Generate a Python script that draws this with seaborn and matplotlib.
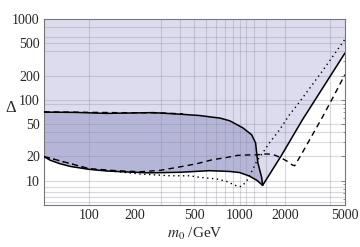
import numpy as np
import pandas as pd
import matplotlib
matplotlib.use('Agg')
import matplotlib.pyplot as plt
import seaborn as sns
from matplotlib.ticker import FixedLocator, FixedFormatter, NullFormatter

# lower edge of the allowed band (solid)
m_lo = [50, 55, 64, 75, 100, 130, 180, 250, 400, 630, 860, 1000, 1160, 1300, 1420]
d_lo = [19.9, 17.9, 16.2, 15.0, 13.8, 13.2, 12.8, 12.5, 12.7, 13.3, 13.0, 12.6, 11.4, 10.1, 8.75]

# upper edge of the dark band (solid)
m_up = [50, 80, 130, 265, 400, 540, 660, 740, 860, 1050, 1200, 1275, 1300, 1320, 1400, 1420]
d_up = [70.5, 70, 68, 69.5, 66.5, 64, 61, 59.5, 55, 45, 37, 29.4, 21, 16.7, 10.9, 8.75]

# rising solid branch
m_rise = [1420, 1890, 2610, 5000]
d_rise = [8.75, 20.4, 56.6, 378]

# dashed curve
m_dash = [50, 100, 150, 218, 295, 400, 518, 662, 800, 955, 1110, 1300, 1500, 1655,
          1850, 2080, 2240, 2320, 2600, 3490, 4200, 5000]
d_dash = [19.9, 14.1, 13.3, 12.9, 13.4, 14.8, 16.2, 18.2, 19.2, 20.5, 20.8, 20.9, 21.4, 21.2,
          19.5, 17.3, 15.6, 15.3, 22, 58, 110, 205]
m_dash_up = [50, 150, 300, 420]
d_dash_up = [71, 69.5, 69, 67]

# dotted curve
m_dot = [50, 100, 150, 218, 344, 466, 543, 704, 818, 955, 1025, 1110, 1220, 1296,
         1420, 1580, 1840, 2150, 2420, 3500, 5000]
d_dot = [19.9, 14.0, 13.0, 12.1, 11.5, 11.5, 11.0, 10.5, 9.8, 8.6, 8.45, 9.8, 13.7, 17.3,
         22, 29.5, 42.6, 66, 87, 220, 560]

x_ticks = [100, 200, 500, 1000, 2000, 5000]
y_ticks = [10, 20, 50, 100, 200, 500, 1000]
x_grid = [100, 300, 400, 500, 600, 700, 800, 900, 1000, 1100, 1250, 1500, 2000, 4000]
y_grid = [5.5, 6.3, 7.3, 8.4, 10, 20, 30, 40, 50, 90, 100, 200, 400, 500, 600, 800]


def main():
    sns.set_style('white')
    plt.rcParams['font.family'] = ['Liberation Serif', 'DejaVu Serif']
    plt.rcParams['mathtext.fontset'] = 'stix'

    fig = plt.figure(figsize=(3.6, 2.47), dpi=100)
    ax = fig.add_axes([0.122, 0.17, 0.836, 0.753])
    ax.set_xscale('log')
    ax.set_yscale('log')

    light = '#dcdcee'
    dark = '#b5b5d8'

    env_m = m_lo + m_rise[1:]
    env_d = d_lo + d_rise[1:]
    ax.fill_between(env_m, env_d, 1000, color=light, lw=0, zorder=1)
    ax.fill(m_lo + m_up[::-1], d_lo + d_up[::-1], color=dark, lw=0, zorder=1)

    for g in x_grid:
        ax.axvline(g, color='#8a8a9a', alpha=0.33, lw=0.8, zorder=2)
    for g in y_grid:
        ax.axhline(g, color='#8a8a9a', alpha=0.33, lw=0.8, zorder=2)

    curves = [
        (m_lo, d_lo, '-', 1.1),
        (m_up, d_up, '-', 1.1),
        (m_rise, d_rise, '-', 1.1),
        (m_dash, d_dash, (0, (4, 3)), 1.0),
        (m_dash_up, d_dash_up, (0, (4, 3)), 1.0),
        (m_dot, d_dot, (0, (1, 2.5)), 1.0),
    ]
    for m, d, ls, lw in curves:
        df = pd.DataFrame({'m0': m, 'delta': d})
        sns.lineplot(data=df, x='m0', y='delta', sort=False, color='black',
                     linestyle=ls, lw=lw, ax=ax, zorder=3)

    ax.set_xlim(50, 5000)
    ax.set_ylim(5, 1000)

    ax.xaxis.set_major_locator(FixedLocator(x_ticks))
    ax.xaxis.set_major_formatter(FixedFormatter([str(v) for v in x_ticks]))
    ax.xaxis.set_minor_formatter(NullFormatter())
    ax.yaxis.set_major_locator(FixedLocator(y_ticks))
    ax.yaxis.set_major_formatter(FixedFormatter([str(v) for v in y_ticks]))
    ax.yaxis.set_minor_formatter(NullFormatter())
    ax.tick_params(which='major', direction='in', length=3, width=0.6, color='#666666',
                   labelsize=10, pad=3, top=True, right=True)
    ax.tick_params(which='minor', direction='in', length=1.5, width=0.5, color='#666666',
                   top=True, right=True)

    for s in ax.spines.values():
        s.set_color('#777777')
        s.set_linewidth(0.8)

    ax.set_xlabel(r'$m_0$ /GeV', fontsize=11, labelpad=3)
    ax.set_ylabel('Δ', fontsize=12, rotation=0, va='center', ha='center')
    ax.yaxis.set_label_coords(-0.11, 0.52)

    fig.savefig('out.png', dpi=100)


if __name__ == '__main__':
    main()
